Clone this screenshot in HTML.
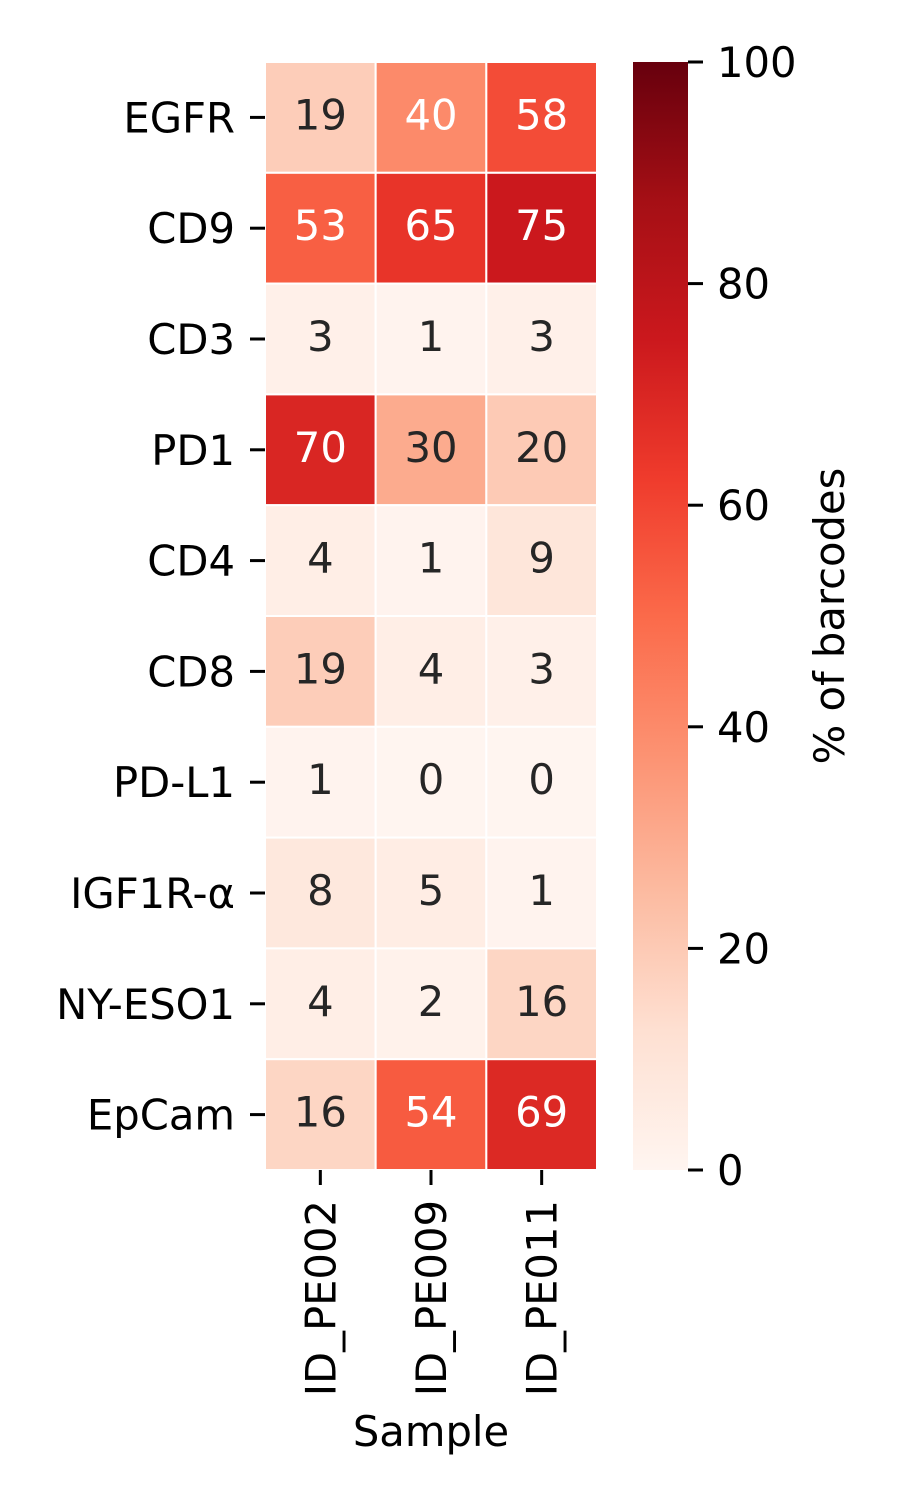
<!DOCTYPE html>
<html><head><meta charset="utf-8"><style>
html,body{margin:0;padding:0;background:#fff;}
svg{display:block;font-family:"DejaVu Sans","Liberation Sans",sans-serif;}
</style></head><body>
<svg id="chart" width="900" height="1500" viewBox="0 0 900 1500">
<defs><linearGradient id="cbgrad" x1="0" y1="1" x2="0" y2="0"></linearGradient></defs>
<g id="cells"></g>
<g id="yaxis"></g>
<g id="xaxis"></g>
<rect x="633" y="62" width="55" height="1108" fill="url(#cbgrad)"/>
<g id="cbaxis"></g>
<text x="431" y="1446" font-size="41.7" text-anchor="middle" fill="#000">Sample</text>
<text transform="translate(844,616) rotate(-90)" font-size="41.7" text-anchor="middle" fill="#000">% of barcodes</text>
</svg>
<script>
const rowLabels = ["EGFR","CD9","CD3","PD1","CD4","CD8","PD-L1","IGF1R-α","NY-ESO1","EpCam"];
const colLabels = ["ID_PE002","ID_PE009","ID_PE011"];
const pe002 = [19,53,3,70,4,19,1,8,4,16];
const pe009 = [40,65,1,30,1,4,0,5,2,54];
const pe011 = [58,75,3,20,9,3,0,1,16,69];
const cbTicks = [0,20,40,60,80,100];

const series=[pe002,pe009,pe011];
const NS="http://www.w3.org/2000/svg";
const FS=41.7;
const X0=265,X1=597,Y0=62,Y1=1170,VMIN=0,VMAX=100;
const cw=(X1-X0)/colLabels.length, rh=(Y1-Y0)/rowLabels.length;
const xPos=i=>X0+i*cw, yPos=j=>Y0+j*rh;
const cbY=v=>Y1-(v-VMIN)/(VMAX-VMIN)*(Y1-Y0);
const reds=["#fff5f0","#fee0d2","#fcbba1","#fc9272","#fb6a4a","#ef3b2c","#cb181d","#a50f15","#67000d"];
function hex(h){return [1,3,5].map(k=>parseInt(h.substr(k,2),16));}
function color(v){let t=Math.max(0,Math.min(1,(v-VMIN)/(VMAX-VMIN)))*(reds.length-1);
 let i=Math.min(Math.floor(t),reds.length-2),f=t-i;const a=hex(reds[i]),b=hex(reds[i+1]);
 return a.map((c,k)=>Math.round(c+(b[k]-c)*f));}
function lum(c){const l=c.map(x=>{x/=255;return x<=0.03928?x/12.92:Math.pow((x+0.055)/1.055,2.4)});return 0.2126*l[0]+0.7152*l[1]+0.0722*l[2];}
function mk(tag,attrs,parent,txt){const e=document.createElementNS(NS,tag);for(const k in attrs)e.setAttribute(k,attrs[k]);if(txt!==undefined)e.textContent=txt;parent.appendChild(e);return e;}
const grad=document.getElementById('cbgrad');
reds.forEach((c,i)=>mk('stop',{offset:(i/(reds.length-1)),'stop-color':c},grad));
const cells=document.getElementById('cells');
series.forEach((s,i)=>s.forEach((v,j)=>{
 const c=color(v);
 const r=mk('rect',{x:xPos(i),y:yPos(j),width:cw,height:rh,fill:`rgb(${c})`,stroke:'#fff','stroke-width':2},cells);
 
 
 const t=mk('text',{x:xPos(i)+cw/2,y:yPos(j)+rh/2+12,'font-size':FS,'text-anchor':'middle',fill:lum(c)>0.408?'#262626':'#fff'},cells,String(v));
 
 
}));
const ya=document.getElementById('yaxis');
rowLabels.forEach((l,j)=>{const y=yPos(j)+rh/2;
 mk('line',{x1:X0-15,x2:X0,y1:y,y2:y,stroke:'#000','stroke-width':3},ya);
 const t=mk('text',{x:X0-30,y:y+15,'font-size':FS,'text-anchor':'end'},ya,l);
 
 });
const xa=document.getElementById('xaxis');
colLabels.forEach((l,i)=>{const x=xPos(i)+cw/2;
 mk('line',{x1:x,x2:x,y1:Y1,y2:Y1+15,stroke:'#000','stroke-width':3},xa);
 const t=mk('text',{transform:`translate(${x+15},${Y1+30}) rotate(-90)`,'font-size':FS,'text-anchor':'end'},xa,l);
 
 });
const cba=document.getElementById('cbaxis');
cbTicks.forEach(v=>{const y=cbY(v);
 mk('line',{x1:688,x2:703,y1:y,y2:y,stroke:'#000','stroke-width':3},cba);
 const t=mk('text',{x:717,y:y+15,'font-size':FS},cba,String(v));
 
 });
</script>
</body></html>
